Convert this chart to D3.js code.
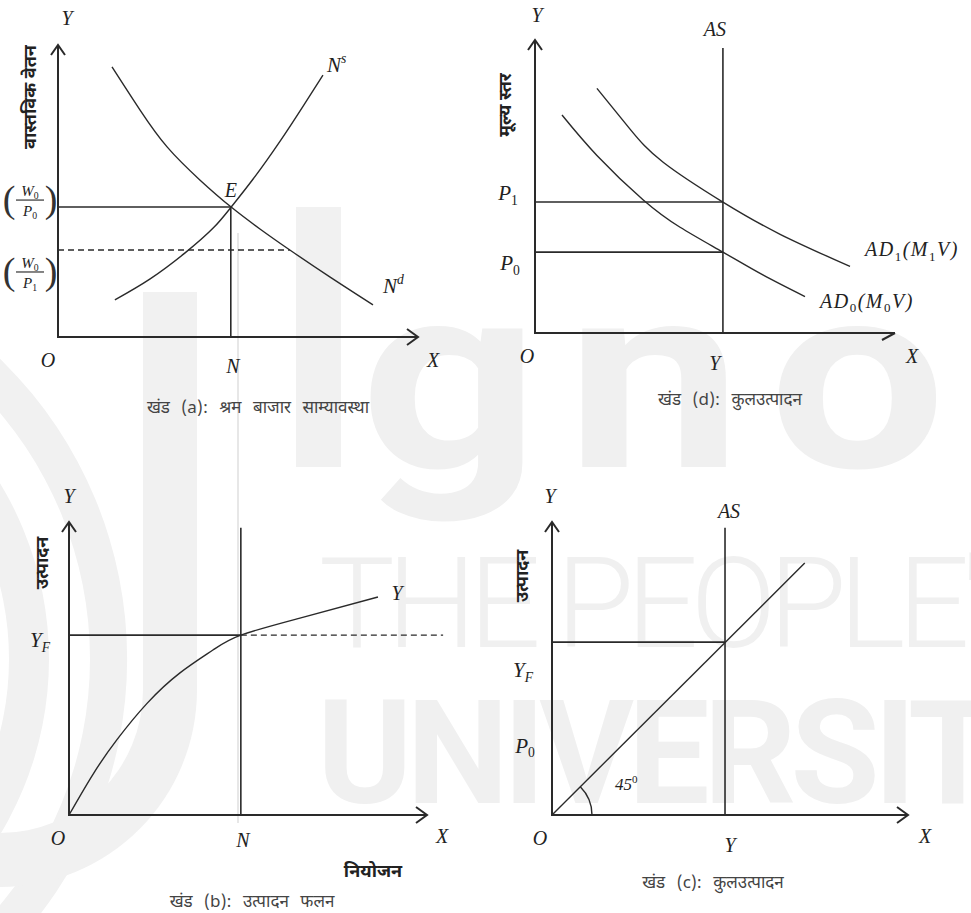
<!DOCTYPE html>
<html>
<head>
<meta charset="utf-8">
<script src="https://cdn.jsdelivr.net/npm/d3@7"></script>
<style>
    body { margin: 0; background: #fff; }
    svg { display: block; }
    .lbl { font-family: "Liberation Serif", "DejaVu Serif", serif; font-style: italic; fill: #222; }
    .num { font-style: normal; }
    .paren { font-family: "Liberation Serif", serif; fill: #333; }
    .hin { font-family: "Noto Sans Devanagari", "Lohit Devanagari", "Noto Sans", sans-serif; fill: #444; font-size: 17px; word-spacing: 7px; }
    .hinb { font-family: "Noto Sans Devanagari", "Lohit Devanagari", "Noto Sans", sans-serif; fill: #222; font-size: 18px; font-weight: bold; }
    .axis, .arrow { fill: none; stroke: #2a2a2a; stroke-width: 2; }
    .guide { stroke: #2a2a2a; stroke-width: 1.6; }
    .dash { stroke: #2a2a2a; stroke-width: 1.4; stroke-dasharray: 6,4; }
    .curve { fill: none; stroke: #2a2a2a; stroke-width: 1.4; }
    .wm { font-family: Roboto, "Noto Sans", sans-serif; fill: #f0f0f0; }
</style>
</head>
<body>
<svg id="chart" width="971" height="913"></svg>
<script>
//Values, every panel runs 0-10 on both axes

//Panel (a): labour market
var labourDemand = [[1.5, 9.25], [2.28, 7.77], [3.03, 6.51], [3.94, 5.38], [4.81, 4.45], [5.61, 3.70], [6.44, 2.98], [7.56, 2.05], [8.75, 1.10]];
var labourSupply = [[1.58, 1.27], [2.56, 1.99], [3.53, 2.88], [4.31, 3.73], [4.81, 4.45], [5.42, 5.41], [6.17, 6.71], [6.81, 7.91], [7.36, 8.97]];
var employmentN = 4.8;
var realWages = [4.45, 2.98];     //W0/P0, W0/P1
var wageDashEnd = 6.44;

//Panel (d): price level
var ad1Curve = [[1.72, 8.35], [2.64, 6.96], [3.56, 5.83], [5.22, 4.47], [6.81, 3.37], [8.75, 2.27]];
var ad0Curve = [[0.75, 7.44], [1.72, 6.06], [3.0, 4.55], [4.03, 3.61], [5.22, 2.76], [6.33, 1.98], [7.5, 1.24]];
var outputD = 5.22;
var asTopD = 9.73;
var priceLevels = [4.47, 2.76];   //P1, P0

//Panel (b): production function
var prodFunction = [[0, 0], [0.67, 1.39], [1.34, 2.57], [2.18, 3.81], [3.10, 4.85], [4.02, 5.63], [4.8, 6.14], [6.45, 6.72], [8.63, 7.44]];
var outputYF = 6.14;
var nLineTop = 9.8;
var yfDashEnd = 10.45;

//Panel (c): 45 degree line
var line45 = [[0, 0], [7.1, 8.6]];
var outputC = 4.86;
var outputLevelC = 5.9;
var asTopC = 9.8;
var priceLabelC = 2.2;

//Panel text
var captions = {
    a: "खंड (a): श्रम बाजार साम्यावस्था",
    d: "खंड (d): कुलउत्पादन",
    b: "खंड (b): उत्पादन फलन",
    c: "खंड (c): कुलउत्पादन"
};
var yTitles = { a: "वास्तविक वेतन", d: "मूल्य स्तर", b: "उत्पादन", c: "उत्पादन" };

//Where each panel sits: axis origin and axis lengths in px
var panels = {
    a: { ox: 58, oy: 337, w: 360, h: 292 },
    d: { ox: 535, oy: 333, w: 360, h: 293 },
    b: { ox: 69, oy: 815, w: 358, h: 293 },
    c: { ox: 552, oy: 815, w: 356, h: 293 }
};

var svg = d3.select("#chart");

//Faint watermark of the source page (logo rings and lettering)
var wm = svg.append("g").attr("fill", "#f1f1f1");
let ring = (cx, cy, r0, r1, a0, a1) => wm.append("path").attr("transform", `translate(${cx},${cy})`)
    .attr("d", d3.arc().innerRadius(r0).outerRadius(r1).startAngle(a0).endAngle(a1)());
ring(-291, 659, 381, 418, 0, Math.PI);
ring(-291, 659, 300, 340, 0, Math.PI);
ring(0, 690, 143, 197, Math.PI / 2, Math.PI);
wm.append("rect").attr("x", 143).attr("y", 292).attr("width", 54).attr("height", 398);
wm.append("rect").attr("x", 296).attr("y", 207).attr("width", 45).attr("height", 260);
wm.append("text").attr("class", "wm").attr("transform", "translate(360,467) scale(1.2,1)")
    .style("font-size", "262px").style("font-weight", 700).style("letter-spacing", "22px").text("gnou");
wm.append("text").attr("class", "wm").attr("x", 319).attr("y", 647)
    .style("font-size", "127px").style("font-weight", 300).style("letter-spacing", "-8px").text("THE PEOPLE'S");
wm.append("text").attr("class", "wm").attr("x", 317).attr("y", 803)
    .style("font-size", "145px").style("font-weight", 700).style("letter-spacing", "-6px").text("UNIVERSITY");

//Scan artefact: thin grey line crossing panels (a) and (b)
svg.append("line").attr("x1", 238).attr("x2", 238).attr("y1", 233).attr("y2", 823)
    .attr("stroke", "#cfcfcf").attr("stroke-width", 1);

function makeScales(p) {
    return {
        x: d3.scaleLinear().domain([0, 10]).range([p.ox, p.ox + p.w]),
        y: d3.scaleLinear().domain([0, 10]).range([p.oy, p.oy - p.h])
    };
}

let lineGen = d3.line().curve(d3.curveNatural);

//Draw a curve from data points
function drawCurve(g, s, pts) {
    g.append("path").attr("class", "curve")
        .attr("d", lineGen.x(d => s.x(d[0])).y(d => s.y(d[1]))(pts));
}

//Straight line between two data points
function seg(g, s, x1, y1, x2, y2, cls) {
    g.append("line").attr("class", cls || "guide")
        .attr("x1", s.x(x1)).attr("y1", s.y(y1))
        .attr("x2", s.x(x2)).attr("y2", s.y(y2));
}

//Axes with open arrow heads
function drawAxes(g, s, halfArrow) {
    let x0 = s.x(0), y0 = s.y(0), xt = s.x(10), yt = s.y(10);
    g.append("path").attr("class", "axis").attr("d", `M${x0},${yt}L${x0},${y0}L${xt},${y0}`);
    g.append("path").attr("class", "arrow").attr("d", `M${x0 - 7},${yt + 10}L${x0},${yt}L${x0 + 7},${yt + 10}`);
    if (halfArrow) {
        g.append("path").attr("class", "arrow").attr("d", `M${xt - 13},${y0 + 7}L${xt},${y0}`);
    } else {
        g.append("path").attr("class", "arrow").attr("d", `M${xt - 11},${y0 - 8}L${xt},${y0}L${xt - 11},${y0 + 8}`);
    }
}

//Math style label, objects in parts are subscripts (or superscripts)
function mathLabel(g, x, y, parts, size, anchor, spacing) {
    size = size || 20;
    let t = g.append("text").attr("class", "lbl").attr("x", x).attr("y", y)
        .style("font-size", size + "px").attr("text-anchor", anchor || "middle");
    if (spacing) t.style("letter-spacing", spacing + "px");
    let shift = 0;
    parts.forEach(p => {
        if (typeof p === "string") {
            t.append("tspan").attr("dy", -shift).text(p);
            shift = 0;
        } else {
            let d = p.sup ? -size * 0.42 : size * 0.22;
            t.append("tspan").attr("dy", d - shift).attr("class", /\d/.test(p.t) ? "num" : null)
                .style("font-size", (size * 0.65) + "px").text(p.t);
            shift = d;
        }
    });
}

//Fraction label in brackets like (W0/P0)
function fracLabel(g, cx, cy, den) {
    g.append("text").attr("class", "paren").attr("x", cx - 21).attr("y", cy + 12)
        .style("font-size", "38px").attr("text-anchor", "middle").text("(");
    g.append("text").attr("class", "paren").attr("x", cx + 21).attr("y", cy + 12)
        .style("font-size", "38px").attr("text-anchor", "middle").text(")");
    g.append("line").attr("x1", cx - 14).attr("x2", cx + 14).attr("y1", cy).attr("y2", cy)
        .attr("stroke", "#333").attr("stroke-width", 1.2);
    mathLabel(g, cx, cy - 4, ["W", { t: "0" }], 15);
    mathLabel(g, cx, cy + 16, ["P", { t: den }], 15);
}

function caption(g, x, y, text) {
    g.append("text").attr("class", "hin").attr("x", x).attr("y", y)
        .attr("text-anchor", "middle").text(text);
}

function yTitle(g, x, y, text) {
    g.append("text").attr("class", "hinb").attr("transform", `translate(${x},${y}) rotate(-90)`)
        .attr("text-anchor", "middle").attr("dy", "0.35em").text(text);
}

//Panel (a): labour market equilibrium
let sa = makeScales(panels.a), ga = svg.append("g");
drawCurve(ga, sa, labourDemand);
drawCurve(ga, sa, labourSupply);
seg(ga, sa, 0, realWages[0], employmentN, realWages[0]);
seg(ga, sa, employmentN, 0, employmentN, realWages[0]);
seg(ga, sa, 0, realWages[1], wageDashEnd, realWages[1], "dash");
drawAxes(ga, sa, false);
mathLabel(ga, sa.x(0) + 9, sa.y(10) - 20, ["Y"]);
mathLabel(ga, sa.x(0) - 10, sa.y(0) + 30, ["O"]);
mathLabel(ga, sa.x(employmentN) + 2, sa.y(0) + 36, ["N"]);
mathLabel(ga, sa.x(10) + 15, sa.y(0) + 30, ["X"]);
mathLabel(ga, sa.x(employmentN), sa.y(realWages[0]) - 10, ["E"]);
let nsEnd = labourSupply[labourSupply.length - 1], ndEnd = labourDemand[labourDemand.length - 1];
mathLabel(ga, sa.x(nsEnd[0]) + 4, sa.y(nsEnd[1]) - 3, ["N", { t: "s", sup: true }], 21, "start");
mathLabel(ga, sa.x(ndEnd[0]) + 10, sa.y(ndEnd[1]) - 12, ["N", { t: "d", sup: true }], 21, "start");
fracLabel(ga, 30, sa.y(realWages[0]) - 7, "0");
fracLabel(ga, 30, sa.y(realWages[1]) + 22, "1");
yTitle(ga, 30, 97, yTitles.a);
caption(ga, 258, 413, captions.a);

//Panel (d): aggregate demand and supply
let sd = makeScales(panels.d), gd = svg.append("g");
drawCurve(gd, sd, ad1Curve);
drawCurve(gd, sd, ad0Curve);
seg(gd, sd, outputD, 0, outputD, asTopD);
priceLevels.forEach(p => seg(gd, sd, 0, p, outputD, p));
drawAxes(gd, sd, true);
mathLabel(gd, sd.x(0) + 2, sd.y(10) - 18, ["Y"]);
mathLabel(gd, sd.x(outputD) - 8, sd.y(asTopD) - 12, ["AS"]);
mathLabel(gd, sd.x(0) - 27, sd.y(priceLevels[0]) - 2, ["P", { t: "1" }], 21);
mathLabel(gd, sd.x(0) - 25, sd.y(priceLevels[1]) + 18, ["P", { t: "0" }], 21);
mathLabel(gd, sd.x(0) - 8, sd.y(0) + 30, ["O"]);
mathLabel(gd, sd.x(outputD) - 8, sd.y(0) + 37, ["Y"]);
mathLabel(gd, sd.x(10) + 17, sd.y(0) + 30, ["X"]);
let ad1End = ad1Curve[ad1Curve.length - 1], ad0End = ad0Curve[ad0Curve.length - 1];
mathLabel(gd, sd.x(ad1End[0]) + 15, sd.y(ad1End[1]) - 10, ["AD", { t: "1" }, "(M", { t: "1" }, "V)"], 20, "start", 1.5);
mathLabel(gd, sd.x(ad0End[0]) + 15, sd.y(ad0End[1]) + 11, ["AD", { t: "0" }, "(M", { t: "0" }, "V)"], 20, "start", 1.5);
yTitle(gd, 505, 105, yTitles.d);
caption(gd, 730, 405, captions.d);

//Panel (b): production function
let sb = makeScales(panels.b), gb = svg.append("g");
drawCurve(gb, sb, prodFunction);
seg(gb, sb, 0, outputYF, employmentN, outputYF);
seg(gb, sb, employmentN, 0, employmentN, nLineTop);
seg(gb, sb, employmentN, outputYF, yfDashEnd, outputYF, "dash");
drawAxes(gb, sb, false);
let pfEnd = prodFunction[prodFunction.length - 1];
mathLabel(gb, sb.x(0), sb.y(10) - 19, ["Y"]);
mathLabel(gb, sb.x(pfEnd[0]) + 19, sb.y(pfEnd[1]) + 3, ["Y"]);
mathLabel(gb, sb.x(0) - 29, sb.y(outputYF) + 12, ["Y", { t: "F" }], 21);
mathLabel(gb, sb.x(0) - 11, sb.y(0) + 30, ["O"]);
mathLabel(gb, sb.x(employmentN) + 2, sb.y(0) + 32, ["N"]);
mathLabel(gb, sb.x(10) + 15, sb.y(0) + 28, ["X"]);
gb.append("text").attr("class", "hinb").attr("x", 373).attr("y", 877).attr("text-anchor", "middle").text("नियोजन");
yTitle(gb, 42, 563, yTitles.b);
caption(gb, 252, 907, captions.b);

//Panel (c): output and 45 degree line
let sc = makeScales(panels.c), gc = svg.append("g");
gc.append("path").attr("class", "curve")
    .attr("d", d3.line().x(d => sc.x(d[0])).y(d => sc.y(d[1]))(line45));
seg(gc, sc, outputC, 0, outputC, asTopC);
seg(gc, sc, 0, outputLevelC, outputC, outputLevelC);
drawAxes(gc, sc, false);
gc.append("path").attr("class", "curve").attr("transform", `translate(${sc.x(0)},${sc.y(0)})`)
    .attr("d", d3.arc().innerRadius(40).outerRadius(40).startAngle(Math.PI / 4).endAngle(Math.PI / 2)());
mathLabel(gc, sc.x(0) - 2, sc.y(10) - 19, ["Y"]);
mathLabel(gc, sc.x(outputC) + 4, sc.y(asTopC) - 10, ["AS"]);
mathLabel(gc, sc.x(0) - 29, sc.y(outputLevelC) + 35, ["Y", { t: "F" }], 21);
mathLabel(gc, sc.x(0) - 27, sc.y(priceLabelC) + 2, ["P", { t: "0" }], 21);
mathLabel(gc, sc.x(0) + 63, sc.y(0) - 25, ["45", { t: "0", sup: true }], 17, "start");
mathLabel(gc, sc.x(0) - 12, sc.y(0) + 30, ["O"]);
mathLabel(gc, sc.x(outputC) + 5, sc.y(0) + 37, ["Y"]);
mathLabel(gc, sc.x(10) + 17, sc.y(0) + 28, ["X"]);
yTitle(gc, 522, 576, yTitles.c);
caption(gc, 713, 888, captions.c);
</script>
</body>
</html>
